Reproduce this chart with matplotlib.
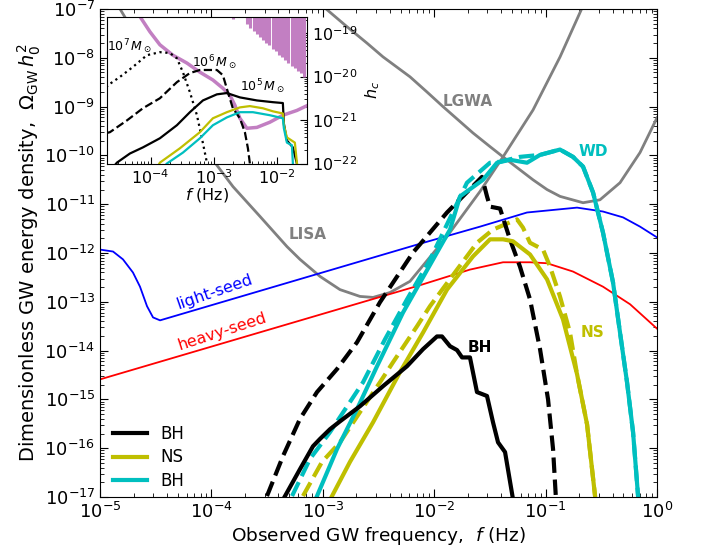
import numpy as np
import matplotlib
matplotlib.use('Agg')
import matplotlib.pyplot as plt
import matplotlib.ticker as mticker

# ---- main panel data (log10 f [Hz], log10 Omega h^2) ----
lisa_logf = [-4.95, -4.82, -4.40, -3.968, -3.806, -3.564, -3.321, -3.205, -3.025, -2.846, -2.666,
             -2.549, -2.397, -2.217, -1.885, -1.589, -1.382, -1.113, -0.87, -0.673, -0.60]
lisa_logo = [-6.70, -7.0, -8.6, -10.15, -10.64, -11.25, -11.87, -12.13, -12.48, -12.75, -12.89,
             -12.91, -12.81, -12.58, -11.66, -10.74, -10.03, -9.07, -7.98, -6.98, -6.6]

lgwa_logf = [-3.10, -2.98, -2.80, -2.603, -2.46, -2.217, -2.065, -1.921, -1.652, -1.499, -1.382,
             -1.113, -0.987, -0.87, -0.664, -0.512, -0.332, -0.152, 0.0]
lgwa_logo = [-6.75, -6.98, -7.33, -7.70, -7.98, -8.39, -8.70, -9.00, -9.54, -9.82, -10.03,
             -10.50, -10.70, -10.84, -10.97, -10.91, -10.56, -9.94, -9.23]

light_logf = [-5.0, -4.883, -4.794, -4.704, -4.641, -4.578, -4.524, -4.461, -2.127, -1.589,
              -1.167, -0.718, -0.485, -0.305, -0.152, 0.0]
light_logo = [-11.93, -11.97, -12.13, -12.40, -12.69, -13.09, -13.32, -13.38, -11.81, -11.46,
              -11.17, -11.07, -11.15, -11.27, -11.46, -11.68]

heavy_logf = [-5.0, -2.127, -1.679, -1.382, -1.14, -0.987, -0.754, -0.485, -0.242, 0.0]
heavy_logo = [-14.59, -12.66, -12.34, -12.19, -12.19, -12.21, -12.38, -12.69, -13.05, -13.55]

bh_dash_logf = [-3.501, -3.357, -3.205, -3.052, -2.873, -2.693, -2.487, -2.190, -1.885, -1.571,
                -1.526, -1.499, -1.409, -1.32, -1.23, -1.14, -1.05, -0.978, -0.933, -0.907]
bh_dash_logo = [-16.98, -16.16, -15.40, -14.85, -14.38, -13.83, -13.01, -11.99, -11.17, -10.44,
                -10.84, -11.05, -11.09, -11.72, -12.28, -12.95, -13.97, -15.00, -16.02, -17.04]

bh_logf = [-3.339, -3.205, -3.088, -3.025, -2.935, -2.846, -2.666, -2.460, -2.244, -2.1, -1.975,
           -1.93, -1.858, -1.795, -1.75, -1.679, -1.616, -1.526, -1.472, -1.427, -1.364, -1.293]
bh_logo = [-16.98, -16.43, -15.96, -15.81, -15.61, -15.45, -15.14, -14.73, -14.32, -13.97, -13.71,
           -13.71, -13.91, -13.99, -14.14, -14.14, -14.85, -14.93, -15.47, -15.88, -16.08, -17.04]

ns_logf = [-2.917, -2.756, -2.549, -2.307, -2.1, -1.885, -1.652, -1.499, -1.382, -1.293, -1.14,
           -0.987, -0.844, -0.718, -0.628, -0.556]
ns_logo = [-16.98, -16.28, -15.47, -14.44, -13.63, -12.75, -12.07, -11.72, -11.72, -11.76, -12.03,
           -12.54, -13.36, -14.48, -15.51, -16.98]

ns_dash_logf = [-3.178, -3.007, -2.846, -2.666, -2.487, -2.370, -2.154, -2.038, -1.795, -1.616,
                -1.472, -1.257, -1.203, -1.14, -1.023, -0.960, -0.871, -0.781, -0.718, -0.628, -0.556]
ns_dash_logo = [-16.98, -16.28, -15.88, -15.26, -14.65, -14.24, -13.50, -13.09, -12.34, -11.79,
                -11.52, -11.31, -11.48, -11.79, -11.93, -12.28, -12.89, -13.63, -14.48, -15.51, -16.98]

wd_logf = [-3.052, -2.873, -2.693, -2.513, -2.28, -1.858, -1.768, -1.562, -1.436, -1.32, -1.167,
           -1.05, -0.871, -0.754, -0.664, -0.574, -0.485, -0.395, -0.332, -0.269, -0.215, -0.17]
wd_logo = [-16.98, -16.02, -15.20, -14.32, -13.22, -11.52, -10.84, -10.50, -10.15, -10.09, -10.15,
           -9.99, -9.88, -10.03, -10.23, -10.76, -11.58, -12.60, -13.63, -14.65, -15.67, -16.98]

wd_dash_logf = [-3.276, -3.115, -2.935, -2.639, -2.442, -2.244, -2.038, -1.706, -1.499, -1.409,
                -1.23, -1.05, -0.871, -0.754, -0.664, -0.574, -0.485, -0.395, -0.332, -0.269, -0.215, -0.17]
wd_dash_logo = [-16.98, -16.22, -15.67, -14.65, -13.77, -12.95, -12.14, -10.56, -10.15, -10.13,
                -10.03, -9.99, -9.88, -10.03, -10.23, -10.76, -11.58, -12.60, -13.63, -14.65, -15.67, -16.98]

# ---- inset data (log10 f, log10 h_c) ----
sens_logf = [-4.30, -4.169, -4.011, -3.853, -3.647, -3.426, -3.22, -3.014, -2.856, -2.745, -2.666,
             -2.587, -2.476, -2.318, -2.112, -1.907, -1.685, -1.51]
sens_logh = [-18.30, -18.62, -18.97, -19.27, -19.51, -19.69, -19.90, -20.08, -20.27, -20.43, -20.66,
             -20.96, -21.19, -21.17, -21.05, -20.89, -20.78, -20.66]

spike_logf = [-2.70, -2.47, -2.42, -2.37, -2.32, -2.27, -2.22, -2.17, -2.12, -2.07, -2.02,
              -1.97, -1.92, -1.87, -1.82, -1.77, -1.72, -1.67, -1.62, -1.57]
spike_logh = [-18.68, -18.80, -18.88, -18.95, -19.02, -19.10, -19.15, -19.24, -19.28, -19.37, -19.42,
              -19.50, -19.56, -19.63, -19.68, -19.76, -19.81, -19.88, -19.93, -20.00]

m7_logf = [-4.70, -4.676, -4.486, -4.28, -4.059, -3.853, -3.695, -3.584, -3.489, -3.378, -3.267,
           -3.188, -3.109, -3.08]
m7_logh = [-20.25, -20.20, -20.01, -19.78, -19.51, -19.44, -19.46, -19.58, -19.90, -20.36, -20.89,
           -21.42, -21.98, -22.3]

m6_logf = [-4.70, -4.644, -4.375, -4.122, -3.853, -3.584, -3.378, -3.22, -2.951, -2.856, -2.777,
           -2.698, -2.587, -2.508, -2.46, -2.429, -2.42]
m6_logh = [-21.30, -21.28, -21.01, -20.73, -20.50, -20.13, -19.92, -19.85, -19.85, -19.97, -20.36,
           -20.73, -20.96, -21.28, -21.65, -22.0, -22.2]

m5_logf = [-4.60, -4.533, -4.327, -4.122, -3.853, -3.584, -3.378, -3.172, -2.951, -2.793, -2.587,
           -2.318, -2.065, -1.907, -1.891, -1.843, -1.749, -1.685, -1.67]
m5_logh = [-22.1, -21.98, -21.77, -21.63, -21.42, -21.12, -20.82, -20.55, -20.41, -20.38, -20.48,
           -20.55, -20.59, -20.61, -21.08, -21.47, -21.63, -22.0, -22.2]

m5ns_logf = [-3.90, -3.853, -3.536, -3.22, -3.014, -2.793, -2.587, -2.429, -2.223, -2.065, -1.907,
             -1.891, -1.843, -1.717, -1.685, -1.67]
m5ns_logh = [-22.1, -21.98, -21.65, -21.28, -20.96, -20.82, -20.71, -20.68, -20.73, -20.80, -20.85,
             -21.12, -21.40, -21.52, -21.98, -22.2]

m5wd_logf = [-3.80, -3.742, -3.489, -3.22, -3.014, -2.793, -2.587, -2.381, -2.112, -1.907, -1.891,
             -1.843, -1.764, -1.749, -1.74]
m5wd_logh = [-22.1, -22.0, -21.75, -21.42, -21.12, -20.94, -20.82, -20.82, -20.89, -20.96, -21.19,
             -21.52, -21.58, -21.98, -22.2]


def p(a):
    return 10 ** np.array(a)


fig = plt.figure(figsize=(7.04, 5.55), dpi=100)
ax = fig.add_axes([100 / 704, 1 - 497 / 555, 557 / 704, 488 / 555])

ax.plot(p(lisa_logf), p(lisa_logo), color='gray', lw=2)
ax.plot(p(lgwa_logf), p(lgwa_logo), color='gray', lw=2)
ax.plot(p(light_logf), p(light_logo), color='b', lw=1.3)
ax.plot(p(heavy_logf), p(heavy_logo), color='r', lw=1.3)

ax.plot(p(wd_dash_logf), p(wd_dash_logo), color='c', lw=3, ls='--')
ax.plot(p(ns_dash_logf), p(ns_dash_logo), color='y', lw=3, ls='--')
ax.plot(p(bh_dash_logf), p(bh_dash_logo), color='k', lw=3, ls='--')
l_wd, = ax.plot(p(wd_logf), p(wd_logo), color='c', lw=3, label='BH')
l_ns, = ax.plot(p(ns_logf), p(ns_logo), color='y', lw=3, label='NS')
l_bh, = ax.plot(p(bh_logf), p(bh_logo), color='k', lw=3, label='BH')

ax.set_xscale('log')
ax.set_yscale('log')
ax.set_xlim(1e-5, 1)
ax.set_ylim(1e-17, 1e-7)
ax.yaxis.set_major_locator(mticker.LogLocator(base=10, numticks=20))
ax.yaxis.set_minor_locator(mticker.LogLocator(base=10, subs=np.arange(2, 10), numticks=20))
ax.tick_params(which='both', direction='in', top=True, right=True, labelsize=13)
ax.tick_params(which='major', length=6)
ax.tick_params(which='minor', length=3)
ax.set_xlabel(r'Observed GW frequency,  $f$ (Hz)', fontsize=13.3, labelpad=2)
ax.set_ylabel(r'Dimensionless GW energy density,  $\Omega_{\rm GW}\,h_0^2$', fontsize=14, labelpad=1)

ax.text(10 ** -3.133, 10 ** -11.62, 'LISA', color='gray', fontsize=11, weight='bold', ha='center', va='center')
ax.text(10 ** -1.697, 10 ** -8.90, 'LGWA', color='gray', fontsize=11, weight='bold', ha='center', va='center')
ax.text(10 ** -0.574, 10 ** -9.92, 'WD', color='c', fontsize=11, weight='bold', ha='center', va='center')
ax.text(10 ** -0.583, 10 ** -13.63, 'NS', color='y', fontsize=11, weight='bold', ha='center', va='center')
ax.text(10 ** -1.589, 10 ** -13.93, 'BH', color='k', fontsize=11, weight='bold', ha='center', va='center')
ax.text(10 ** -3.968, 10 ** -12.79, 'light-seed', color='b', fontsize=11.5, rotation=19,
        ha='center', va='center', rotation_mode='anchor')
ax.text(10 ** -3.905, 10 ** -13.60, 'heavy-seed', color='r', fontsize=11.5, rotation=18,
        ha='center', va='center', rotation_mode='anchor')

ax.legend(handles=[l_bh, l_ns, l_wd], loc='lower left', bbox_to_anchor=(0.012, 0.0),
          frameon=False, fontsize=12, handlelength=2, borderaxespad=0, labelspacing=0.35)

# ---- inset ----
axi = fig.add_axes([107 / 704, 1 - 163.5 / 555, 200 / 704, 147 / 555])
axi.plot(p(sens_logf), p(sens_logh), color='#c27fc2', lw=2.5)
axi.vlines(p(spike_logf), p(spike_logh), 1e-17, color='#c27fc2', lw=2.2)
axi.plot(p(m7_logf), p(m7_logh), color='k', lw=1.6, ls=':')
axi.plot(p(m6_logf), p(m6_logh), color='k', lw=1.6, ls='--')
axi.plot(p(m5_logf), p(m5_logh), color='k', lw=1.6)
axi.plot(p(m5ns_logf), p(m5ns_logh), color='y', lw=1.6)
axi.plot(p(m5wd_logf), p(m5wd_logh), color='c', lw=1.6)
axi.set_xscale('log')
axi.set_yscale('log')
axi.set_xlim(10 ** -4.69, 10 ** -1.525)
axi.set_ylim(1e-22, 10 ** -18.62)
axi.yaxis.tick_right()
axi.yaxis.set_label_position('right')
axi.yaxis.set_major_locator(mticker.LogLocator(base=10, numticks=20))
axi.yaxis.set_minor_locator(mticker.LogLocator(base=10, subs=np.arange(2, 10), numticks=20))
axi.tick_params(which='both', direction='in', labelsize=11.5, top=False, left=False, right=True)
axi.tick_params(which='major', length=5)
axi.tick_params(which='minor', length=2.5)
axi.set_xlabel(r'$f$ (Hz)', fontsize=11.5, labelpad=-1)
axi.set_ylabel(r'$h_c$', fontsize=11.5, labelpad=4)
axi.text(10 ** -4.328, 10 ** -19.32, r'$10^7\,M_\odot$', fontsize=9, ha='center', va='center')
axi.text(10 ** -2.983, 10 ** -19.69, r'$10^6\,M_\odot$', fontsize=9, ha='center', va='center')
axi.text(10 ** -2.223, 10 ** -20.24, r'$10^5\,M_\odot$', fontsize=9, ha='center', va='center')

fig.savefig('out.png', dpi=100)
